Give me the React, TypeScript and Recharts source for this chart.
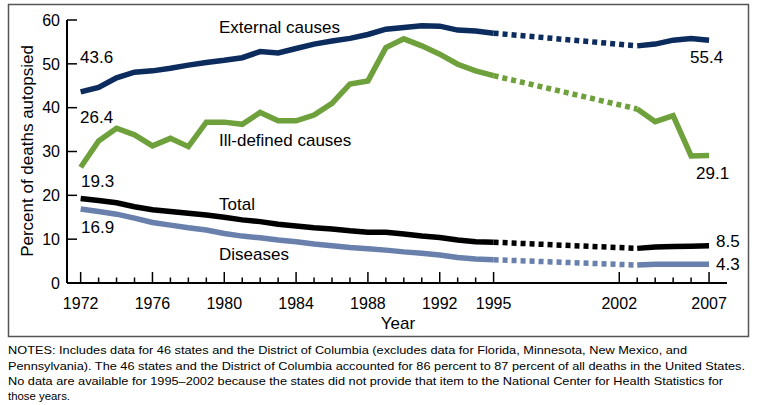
import React from 'react';
import { LineChart, Line, XAxis, YAxis } from 'recharts';

const yearsA = [1972, 1973, 1974, 1975, 1976, 1977, 1978, 1979, 1980, 1981, 1982, 1983, 1984, 1985, 1986, 1987, 1988, 1989, 1990, 1991, 1992, 1993, 1994, 1995];
const yearsB = [2003, 2004, 2005, 2006, 2007];
const gapYear = 1999;

const externalA = [43.6, 44.6, 46.8, 48.1, 48.4, 49.0, 49.7, 50.3, 50.8, 51.4, 52.8, 52.5, 53.5, 54.5, 55.2, 55.8, 56.7, 57.9, 58.3, 58.7, 58.6, 57.7, 57.5, 57.0];
const externalB = [54.1, 54.5, 55.4, 55.8, 55.4];
const illDefinedA = [26.4, 32.4, 35.3, 33.8, 31.3, 33.0, 31.1, 36.7, 36.7, 36.2, 38.9, 37.0, 37.0, 38.3, 41.0, 45.4, 46.1, 53.7, 55.7, 54.1, 52.2, 49.9, 48.4, 47.3];
const illDefinedB = [39.7, 36.8, 38.2, 29.0, 29.1];
const totalA = [19.3, 18.8, 18.3, 17.4, 16.7, 16.3, 15.9, 15.5, 15.0, 14.4, 14.0, 13.4, 13.0, 12.6, 12.3, 11.9, 11.6, 11.6, 11.2, 10.7, 10.4, 9.8, 9.4, 9.3];
const totalB = [7.9, 8.2, 8.3, 8.4, 8.5];
const diseasesA = [16.9, 16.3, 15.7, 14.8, 13.8, 13.2, 12.6, 12.1, 11.3, 10.7, 10.3, 9.8, 9.4, 8.9, 8.5, 8.1, 7.8, 7.5, 7.1, 6.8, 6.4, 5.8, 5.5, 5.3];
const diseasesB = [4.1, 4.3, 4.3, 4.3, 4.3];

const xTicks = [1972, 1973, 1974, 1975, 1976, 1977, 1978, 1979, 1980, 1981, 1982, 1983, 1984, 1985, 1986, 1987, 1988, 1989, 1990, 1991, 1992, 1993, 1994, 1995, 2002, 2003, 2004, 2005, 2006, 2007];
const xMajor = [1972, 1976, 1980, 1984, 1988, 1992, 1995, 2002, 2007];
const yTicks = [0, 10, 20, 30, 40, 50, 60];

const series = [
  { key: 'ext', a: externalA, b: externalB, color: '#0c2c5e' },
  { key: 'ill', a: illDefinedA, b: illDefinedB, color: '#6ea03b' },
  { key: 'tot', a: totalA, b: totalB, color: '#000000' },
  { key: 'dis', a: diseasesA, b: diseasesB, color: '#6880ab' },
];

const lastA = yearsA.length - 1;
const tableA = yearsA.map((year, i) => {
  const row: any = { year };
  series.forEach((s) => {
    row[s.key] = s.a[i];
    if (i === lastA) row[s.key + 'Dot'] = s.a[i];
  });
  return row;
});
const gapRow: any = { year: gapYear };
const tableB = yearsB.map((year, i) => {
  const row: any = { year };
  series.forEach((s) => {
    row[s.key] = s.b[i];
    if (i === 0) row[s.key + 'Dot'] = s.b[i];
  });
  return row;
});
const data = [...tableA, gapRow, ...tableB];

const FONT = '"Liberation Sans", Arial, Helvetica, sans-serif';

const XTick = (props: any) => {
  const { x, y, payload } = props;
  const major = xMajor.includes(payload.value);
  return (
    <g>
      <line x1={x} x2={x} y1={y - (major ? 11 : 5.5)} y2={y} stroke="#000" strokeWidth={1.5} />
      {major && (
        <text x={x} y={y + 26} textAnchor="middle" fontSize={16} fontFamily={FONT} fill="#000">
          {payload.value}
        </text>
      )}
    </g>
  );
};

const YTick = (props: any) => {
  const { x, y, payload } = props;
  return (
    <g>
      <line x1={x} x2={x + 10} y1={y} y2={y} stroke="#000" strokeWidth={1.5} />
      <text x={x - 7} y={y + 5.7} textAnchor="end" fontSize={16} fontFamily={FONT} fill="#000">
        {payload.value}
      </text>
    </g>
  );
};

const annotations = [
  { text: 'External causes', x: 219, y: 33 },
  { text: '43.6', x: 80, y: 63 },
  { text: '26.4', x: 80, y: 122.5 },
  { text: 'Ill-defined causes', x: 219, y: 145.5 },
  { text: '19.3', x: 81, y: 187 },
  { text: 'Total', x: 219, y: 210 },
  { text: '16.9', x: 81, y: 233 },
  { text: 'Diseases', x: 219, y: 260 },
  { text: '55.4', x: 690, y: 63 },
  { text: '29.1', x: 696, y: 179 },
  { text: '8.5', x: 716, y: 247 },
  { text: '4.3', x: 716, y: 270 },
];

const notes = [
  { text: 'NOTES: Includes data for 46 states and the District of Columbia (excludes data for Florida, Minnesota, New Mexico, and', y: 354, w: 679 },
  { text: 'Pennsylvania). The 46 states and the District of Columbia accounted for 86 percent to 87 percent of all deaths in the United States.', y: 370, w: 737 },
  { text: 'No data are available for 1995\u20132002 because the states did not provide that item to the National Center for Health Statistics for', y: 385, w: 715 },
  { text: 'those years.', y: 400, w: 62 },
];

export default function App() {
  return (
    <div style={{ position: 'absolute', left: 0, top: 0, width: 758, height: 405, background: '#fff' }}>
      <div style={{ position: 'absolute', left: 0, top: 0 }}>
        <LineChart width={758} height={340} data={data} margin={{ top: 20, right: 31, bottom: 27, left: 0 }}>
          <XAxis
            type="number"
            dataKey="year"
            domain={[1971.24, 2008]}
            allowDataOverflow
            ticks={xTicks}
            interval={0}
            tick={<XTick />}
            tickLine={false}
            tickSize={0}
            tickMargin={0}
            height={30}
            axisLine={{ stroke: '#000', strokeWidth: 2 }}
          />
          <YAxis
            type="number"
            domain={[0, 60]}
            ticks={yTicks}
            interval={0}
            width={67}
            tick={<YTick />}
            tickLine={false}
            tickSize={0}
            tickMargin={0}
            axisLine={{ stroke: '#000', strokeWidth: 2 }}
          />
          {series.map((s) => (
            <Line
              key={s.key}
              type="linear"
              dataKey={s.key}
              stroke={s.color}
              strokeWidth={5.5}
              dot={false}
              activeDot={false}
              connectNulls={false}
              isAnimationActive={false}
            />
          ))}
          {series.map((s) => (
            <Line
              key={s.key + 'Dot'}
              type="linear"
              dataKey={s.key + 'Dot'}
              stroke={s.color}
              strokeWidth={5.5}
              strokeDasharray="5 4"
              dot={false}
              activeDot={false}
              connectNulls
              isAnimationActive={false}
            />
          ))}
        </LineChart>
      </div>
      <svg width={758} height={405} style={{ position: 'absolute', left: 0, top: 0, pointerEvents: 'none' }}>
        <rect x={8.5} y={4.5} width={740} height={332} fill="none" stroke="#555" strokeWidth={1.5} />
        {annotations.map((a) => (
          <text key={a.text} x={a.x} y={a.y} fontSize={17} fontFamily={FONT} fill="#000">
            {a.text}
          </text>
        ))}
        <text x={398} y={329} textAnchor="middle" fontSize={17} fontFamily={FONT} fill="#000">
          Year
        </text>
        <text
          x={33}
          y={151}
          transform="rotate(-90, 33, 151)"
          textAnchor="middle"
          fontSize={17}
          fontFamily={FONT}
          fill="#000"
        >
          Percent of deaths autopsied
        </text>
        {notes.map((n) => (
          <text
            key={n.y}
            x={8}
            y={n.y}
            fontSize={11.5}
            fontFamily={FONT}
            textLength={n.w}
            lengthAdjust="spacingAndGlyphs"
            fill="#000"
          >
            {n.text}
          </text>
        ))}
      </svg>
    </div>
  );
}
